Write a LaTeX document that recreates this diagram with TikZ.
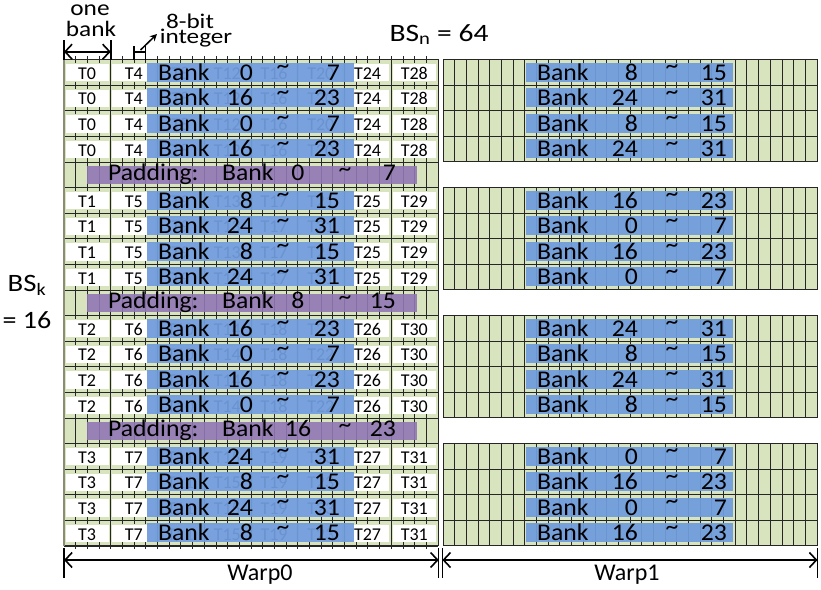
\documentclass[tikz,border=0pt]{standalone}
\usepackage{fontspec}
\usepackage{graphicx}
\setmainfont{Carlito}
\usetikzlibrary{arrows.meta}
\definecolor{gbg}{HTML}{D7E4BD}
\definecolor{bbar}{rgb}{0.44,0.61,0.86}
\definecolor{pbar}{rgb}{0.569,0.468,0.711}
\definecolor{gridc}{HTML}{262626}
\definecolor{bord}{HTML}{8A8C78}
\newcommand\sxx[2]{\scalebox{#1}[1]{#2}}
\begin{document}
\begin{tikzpicture}[x=1pt,y=-1pt,
  gl/.style={draw=gridc,line width=0.8pt},
  tlab/.style={inner sep=0pt,font=\fontsize{18}{19}\selectfont,anchor=base},
  btxt/.style={inner sep=0pt,font=\fontsize{24}{25}\selectfont},
  lbl/.style={inner sep=0pt,font=\fontsize{21}{22}\selectfont,anchor=base},
  dimarrow/.style={line width=1.6pt,{Straight Barb[length=7pt,width=15pt]}-{Straight Barb[length=7pt,width=15pt]}},
  dimbar/.style={line width=1.5pt},
  bluebar/.style={fill=bbar,fill opacity=0.94},
  purplebar/.style={fill=pbar,fill opacity=0.9},
]
\useasboundingbox (0,0) rectangle (821,589);
\def\LA{64}
\def\LB{443}
\def\W{374}
\def\by{11.6875}
\def\T{59.5}
\def\h{25.6}
\def\sc{1.07}
\def\datarows{0/0,1/0,2/0,3/0,5/1,6/1,7/1,8/1,10/2,11/2,12/2,13/2,15/3,16/3,17/3,18/3}
% ---------- Warp0 background
\fill[gbg] (\LA,\T) rectangle ++(\W,19*\h);
% white boxes and thread labels
\foreach \k/\g in \datarows {
  \pgfmathsetmacro\y{\T+\k*\h}
  \foreach \i in {0,...,7}{
    \pgfmathsetmacro\xa{\LA+4*\i*\by+1.6}
    \pgfmathsetmacro\xb{\LA+4*(\i+1)*\by-2.2}
    \pgfmathtruncatemacro\tn{\g+4*\i}
    \fill[white] (\xa,\y+4.5) rectangle (\xb,\y+\h-3.8);
    \node[tlab] (t\k-\i) at ({(\xa+\xb)/2},\y+19.8) {T\tn};
  }
  \foreach \i in {1,...,7}
    \draw[gl] (\LA+4*\i*\by,\y) -- ++(0,\h);
}
% padding rows: full byte lines
\foreach \k in {4,9,14}{
  \pgfmathsetmacro\y{\T+\k*\h}
  \foreach \j in {1,...,31}
    \draw[gl] (\LA+\j*\by,\y) -- ++(0,\h);
}
% horizontal lines and byte ticks
\foreach \k in {0,...,19}{
  \pgfmathsetmacro\y{\T+\k*\h}
  \draw[gl] (\LA,\y) -- ++(\W,0);
  \foreach \j in {1,...,31}
    \draw[gl] (\LA+\j*\by,\y-3.5) -- ++(0,7);
}
\draw[gridc,line width=0.9pt] (\LA,\T) rectangle ++(\W,19*\h);
\draw[bord,line width=2pt] (\LA,\T) -- ++(0,19*\h);
% ---------- Warp1 groups
\foreach \g in {0,...,3}{
  \pgfmathsetmacro\gy{\T+5*\g*\h}
  \fill[gbg] (\LB,\gy) rectangle ++(\W,4*\h);
  \foreach \j in {1,...,31}
    \draw[gl] (\LB+\j*\by,\gy) -- ++(0,4*\h);
  \foreach \r in {1,2,3}
    \draw[gl] (\LB,\gy+\r*\h) -- ++(\W,0);
  \draw[gridc,line width=0.9pt] (\LB,\gy) rectangle ++(\W,4*\h);
}
% ---------- bars and texts, Warp0 and Warp1
\foreach \k/\a/\b/\c/\d in {0/0/7/8/15,1/16/23/24/31,2/0/7/8/15,3/16/23/24/31,
  5/8/15/16/23,6/24/31/0/7,7/8/15/16/23,8/24/31/0/7,
  10/16/23/24/31,11/0/7/8/15,12/16/23/24/31,13/0/7/8/15,
  15/24/31/0/7,16/8/15/16/23,17/24/31/0/7,18/8/15/16/23}{
  \pgfmathsetmacro\y{\T+\k*\h}
  \pgfmathsetmacro\yb{\y+20.5}
  \fill[bluebar] (\LA+7.1*\by,\y+3) rectangle (\LA+24.8*\by,\y+\h-3.5);
  \node[btxt,anchor=base west] (ba\k) at (\LA+94,\yb) {\sxx{\sc}{Bank}};
  \node[btxt,anchor=base east] (na\k) at (\LA+189,\yb) {\sxx{\sc}{\a}};
  \node[btxt,anchor=base] (sa\k) at (\LA+219,\yb-6.5) {\sxx{\sc}{\textasciitilde}};
  \node[btxt,anchor=base east] (ma\k) at (\LA+276,\yb) {\sxx{\sc}{\b}};
  \fill[bluebar] (\LB+7.1*\by,\y+3) rectangle (\LB+24.8*\by,\y+\h-3.5);
  \node[btxt,anchor=base west] (bb\k) at (\LB+94,\yb) {\sxx{\sc}{Bank}};
  \node[btxt,anchor=base east] (nb\k) at (\LB+195,\yb) {\sxx{\sc}{\c}};
  \node[btxt,anchor=base] (sb\k) at (\LB+229,\yb-6.5) {\sxx{\sc}{\textasciitilde}};
  \node[btxt,anchor=base east] (mb\k) at (\LB+284,\yb) {\sxx{\sc}{\d}};
}
% padding bars
\foreach \k/\a/\b in {4/0/7,9/8/15,14/16/23}{
  \pgfmathsetmacro\y{\T+\k*\h}
  \pgfmathsetmacro\yb{\y+18.8}
  \fill[purplebar] (\LA+2*\by,\y+4) rectangle (\LA+30.2*\by,\y+\h-3.5);
  \node[btxt,anchor=base west] (pp\k) at (108,\yb) {\sxx{\sc}{Padding:}};
  \node[btxt,anchor=base west] (pb\k) at (222,\yb) {\sxx{\sc}{Bank}};
  \node[btxt,anchor=base] (pn\k) at (298,\yb) {\sxx{\sc}{\a}};
  \node[btxt,anchor=base] (ps\k) at (345,\yb-4) {\sxx{\sc}{\textasciitilde}};
  \node[btxt,anchor=base east] (pm\k) at (396,\yb) {\sxx{\sc}{\b}};
}
% ---------- top annotations
\coordinate (oba) at (\LA,51.7);
\coordinate (obb) at (\LA+4*\by,51.7);
\draw[dimbar] (\LA,40) -- (\LA,\T);
\draw[dimbar] (\LA+4*\by,40) -- (\LA+4*\by,\T);
\draw[dimarrow] (oba) -- (obb);
\node[lbl,font=\fontsize{22}{23}\selectfont] (one) at (90,15) {\sxx{1.15}{one}};
\node[lbl,font=\fontsize{22}{23}\selectfont] (bank) at (91,36) {\sxx{1.15}{bank}};
\coordinate (iba) at (\LA+6*\by,52);
\coordinate (ibb) at (\LA+7*\by,52);
\draw[line width=1.3pt] (\LA+6*\by,46) -- (\LA+6*\by,\T);
\draw[line width=1.3pt] (\LA+7*\by,46) -- (\LA+7*\by,\T);
\draw[line width=1.3pt] (iba) -- (ibb);
\coordinate (ar0) at (140.5,50);
\node[lbl] (eightbit) at (190,28.3) {\sxx{1.2}{8-bit}};
\node[lbl] (integer) at (196,43.5) {\sxx{1.2}{integer}};
\draw[line width=1.5pt,-{Stealth[length=7pt,width=7pt]}] (ar0) -- (157,34);
\node[lbl,font=\fontsize{25}{26}\selectfont] (bsn) at (439,41) {\sxx{1.18}{BS\textsubscript{n} = 64}};
\node[lbl,font=\fontsize{25}{26}\selectfont] (bsk) at (27,291.7) {\sxx{1.15}{BS\textsubscript{k}}};
\node[lbl,font=\fontsize{25}{26}\selectfont] (eq16) at (27,328) {\sxx{1.12}{= 16}};
% ---------- bottom dimension lines
\coordinate (w0a) at (\LA,560);
\coordinate (w0b) at (438.7,560);
\coordinate (w1a) at (442.4,560);
\coordinate (w1b) at (817.5,560);
\draw[dimbar] (\LA,548) -- (\LA,578);
\draw[dimbar] (438.7,548) -- (438.7,578);
\draw[dimbar] (442.4,548) -- (442.4,578);
\draw[dimbar] (817.5,548) -- (817.5,578);
\draw[dimarrow] (w0a) -- (w0b);
\draw[dimarrow] (w1a) -- (w1b);
\node[lbl,font=\fontsize{24}{25}\selectfont] (warp0) at (260,580) {Warp0};
\node[lbl,font=\fontsize{24}{25}\selectfont] (warp1) at (627,580) {Warp1};
\end{tikzpicture}
\end{document}
